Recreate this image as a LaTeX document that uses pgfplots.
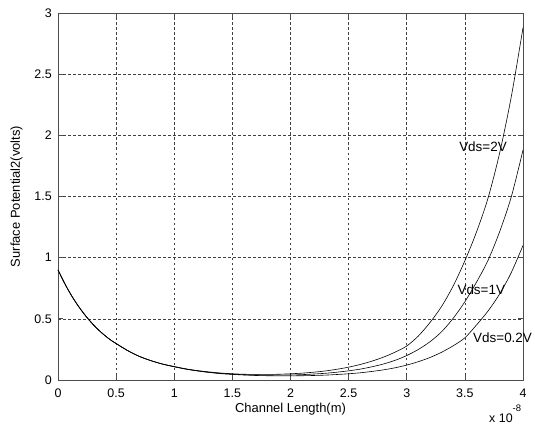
\documentclass[border=0pt]{standalone}
\usepackage{fontspec}
\setmainfont{Liberation Sans}
\usepackage{pgfplots}
\pgfplotsset{compat=1.18}
\begin{document}
\begin{tikzpicture}[x=1bp,y=1bp]
\path[use as bounding box] (0,0) rectangle (535,425);
\begin{axis}[
  at={(58bp,45bp)}, anchor=south west,
  scale only axis, width=465bp, height=367bp,
  xmin=0, xmax=4, ymin=0, ymax=3,
  xtick={0,0.5,1,1.5,2,2.5,3,3.5,4},
  ytick={0,0.5,1,1.5,2,2.5,3},
  xticklabels={0,0.5,1,1.5,2,2.5,3,3.5,4},
  yticklabels={0,0.5,1,1.5,2,2.5,3},
  grid=major,
  major grid style={black!75, line width=0.6bp, dash pattern=on 2.5bp off 2.5bp},
  axis line style={black!70, line width=0.8bp},
  tick align=inside, major tick length=5bp,
  every tick/.style={black!70, line width=0.7bp},
  tick label style={font=\fontsize{12.5}{14}\selectfont, inner sep=0pt, text=black},
  xticklabel style={anchor=north, yshift=-9bp},
  yticklabel style={anchor=east, xshift=-6bp},
  xlabel={Channel Length(m)},
  ylabel={Surface Potential2(volts)},
  label style={font=\fontsize{13}{15}\selectfont, inner sep=0pt},
  xlabel style={at={(axis description cs:0.5,0)}, anchor=north, yshift=-22.5bp},
  ylabel style={at={(axis description cs:-0.076,0.5)}, anchor=south},
  clip=false,
]
% Vds = 2 V
\addplot[black, line width=0.6bp, mark=none, smooth] coordinates {
(0,0.900) (0.05,0.803) (0.1,0.716) (0.15,0.639) (0.2,0.571) (0.25,0.510)
(0.3,0.456) (0.35,0.408) (0.4,0.366) (0.45,0.329) (0.5,0.298) (0.6,0.240)
(0.7,0.193) (0.8,0.158) (0.9,0.130) (1.0,0.110) (1.1,0.091) (1.2,0.077)
(1.3,0.066) (1.4,0.057) (1.5,0.051) (1.6,0.047) (1.7,0.046) (1.8,0.046)
(1.9,0.047) (2.0,0.051) (2.1,0.056) (2.2,0.064) (2.3,0.074) (2.4,0.088)
(2.5,0.105) (2.6,0.127) (2.7,0.154) (2.8,0.187) (2.9,0.228) (3.0,0.278)
(3.1,0.360) (3.2,0.470) (3.3,0.602) (3.4,0.770) (3.5,0.975) (3.6,1.210)
(3.7,1.490) (3.8,1.860) (3.9,2.320) (4.0,2.880)
};
% Vds = 1 V
\addplot[black, line width=0.6bp, mark=none, smooth] coordinates {
(0,0.900) (0.05,0.803) (0.1,0.716) (0.15,0.639) (0.2,0.571) (0.25,0.510)
(0.3,0.456) (0.35,0.408) (0.4,0.366) (0.45,0.329) (0.5,0.298) (0.6,0.240)
(0.7,0.193) (0.8,0.158) (0.9,0.130) (1.0,0.109) (1.1,0.090) (1.2,0.075)
(1.3,0.063) (1.4,0.054) (1.5,0.048) (1.6,0.043) (1.7,0.041) (1.8,0.040)
(1.9,0.040) (2.0,0.041) (2.1,0.044) (2.2,0.049) (2.3,0.055) (2.4,0.064)
(2.5,0.075) (2.6,0.089) (2.7,0.108) (2.8,0.131) (2.9,0.161) (3.0,0.200)
(3.1,0.250) (3.2,0.313) (3.3,0.395) (3.4,0.505) (3.5,0.640) (3.6,0.800)
(3.7,0.980) (3.8,1.215) (3.9,1.500) (4.0,1.880)
};
% Vds = 0.2 V
\addplot[black, line width=0.6bp, mark=none, smooth] coordinates {
(0,0.900) (0.05,0.803) (0.1,0.716) (0.15,0.639) (0.2,0.571) (0.25,0.510)
(0.3,0.456) (0.35,0.408) (0.4,0.366) (0.45,0.329) (0.5,0.298) (0.6,0.240)
(0.7,0.193) (0.8,0.158) (0.9,0.130) (1.0,0.108) (1.1,0.089) (1.2,0.074)
(1.3,0.062) (1.4,0.052) (1.5,0.046) (1.6,0.041) (1.7,0.037) (1.8,0.035)
(1.9,0.034) (2.0,0.034) (2.1,0.035) (2.2,0.037) (2.3,0.040) (2.4,0.045)
(2.5,0.051) (2.6,0.059) (2.7,0.070) (2.8,0.083) (2.9,0.100) (3.0,0.122)
(3.1,0.150) (3.2,0.184) (3.3,0.227) (3.4,0.280) (3.5,0.345) (3.6,0.450)
(3.7,0.565) (3.8,0.705) (3.9,0.880) (4.0,1.100)
};
\node[anchor=base west, inner sep=0pt, font=\fontsize{13.5}{15}\selectfont] at (axis cs:3.45,1.867) {Vds=2V};
\node[anchor=base west, inner sep=0pt, font=\fontsize{13.5}{15}\selectfont] at (axis cs:3.435,0.703) {Vds=1V};
\node[anchor=base west, inner sep=0pt, font=\fontsize{13.5}{15}\selectfont] at (axis cs:3.57,0.305) {Vds=0.2V};
\end{axis}
\node[anchor=base west, inner sep=0pt, font=\fontsize{12.5}{14}\selectfont] at (489,3) {x 10\raisebox{11bp}{\fontsize{9.5}{10}\selectfont -8}};
\end{tikzpicture}
\end{document}
